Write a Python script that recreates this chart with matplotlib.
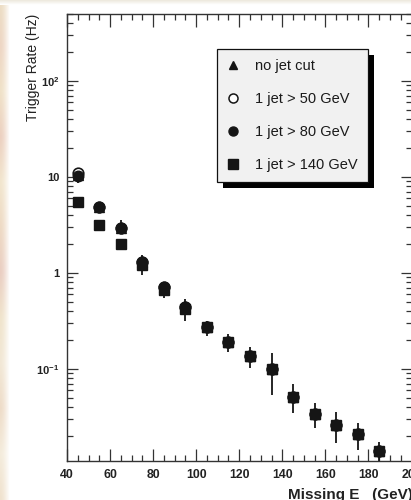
import numpy as np
import matplotlib
matplotlib.use("Agg")
import matplotlib.pyplot as plt
from matplotlib.lines import Line2D
from matplotlib.patches import Rectangle
from matplotlib.ticker import FixedLocator, MultipleLocator, LogLocator, NullFormatter
from matplotlib.transforms import IdentityTransform

plt.rcParams["font.family"] = ["Liberation Sans", "DejaVu Sans"]
plt.rcParams["mathtext.fontset"] = "custom"
plt.rcParams["mathtext.rm"] = "Liberation Sans:bold"
plt.rcParams["mathtext.bf"] = "Liberation Sans:bold"
plt.rcParams["mathtext.it"] = "Liberation Sans:bold"

# Missing transverse energy bins (GeV)
energy = [45, 55, 65, 75, 85, 95, 105, 115, 125, 135, 145, 155, 165, 175, 185]

# Trigger rates (Hz) per jet requirement
rate_no_cut = [10.6, 4.9, 2.92, 1.31, 0.71, 0.44, 0.272, 0.193, 0.138, 0.100,
               0.0515, 0.0337, 0.026, 0.0209, 0.0139]
rate_jet50 = [10.9, 4.9, 2.92, 1.31, 0.71, 0.44, 0.272, 0.193, 0.138, 0.100,
              0.0515, 0.0337, 0.026, 0.0209, 0.0139]
rate_jet80 = [10.3, 4.9, 2.92, 1.31, 0.71, 0.44, 0.272, 0.193, 0.138, 0.100,
              0.0515, 0.0337, 0.026, 0.0209, 0.0139]
rate_jet80_lo = [8.7, 4.7, 2.6, 1.25, 0.68, 0.42, 0.262, 0.186, 0.133, 0.096,
                 0.049, 0.032, 0.025, 0.020, 0.0133]
rate_jet80_hi = [12.4, 5.1, 3.6, 1.38, 0.74, 0.46, 0.282, 0.200, 0.143, 0.104,
                 0.054, 0.035, 0.027, 0.0218, 0.0145]
rate_jet140 = [5.5, 3.16, 2.0, 1.21, 0.665, 0.42, 0.272, 0.193, 0.138, 0.100,
               0.0515, 0.0337, 0.026, 0.0209, 0.0139]
rate_jet140_lo = [4.9, 2.95, 1.8, 0.955, 0.545, 0.316, 0.222, 0.151, 0.103, 0.0536,
                  0.0345, 0.0245, 0.0168, 0.0144, 0.0105]
rate_jet140_hi = [6.2, 3.4, 2.2, 1.54, 0.80, 0.532, 0.318, 0.230, 0.171, 0.146,
                  0.069, 0.044, 0.0354, 0.0274, 0.0175]

legend_labels = ["no jet cut", "1 jet > 50 GeV", "1 jet > 80 GeV", "1 jet > 140 GeV"]
x_ticks = [40, 60, 80, 100, 120, 140, 160, 180, 200]
y_ticks = [0.1, 1, 10, 100]
y_tick_labels = [r"$10^{-1}$", "1", "10", r"$10^{2}$"]

W, H = 411, 500
fig = plt.figure(figsize=(W / 100, H / 100), dpi=100, facecolor="white")

# faded paper texture along the left and top edges
stops = np.array([
    [236, 222, 196], [238, 214, 196], [240, 226, 200], [236, 208, 192],
    [242, 230, 206], [238, 218, 196], [234, 206, 194], [240, 228, 204],
    [242, 232, 214], [238, 220, 200], [244, 236, 220], [240, 226, 206],
]) / 255.0
ny = 200
yy = np.linspace(0, len(stops) - 1, ny)
col = np.empty((ny, 3))
for c in range(3):
    col[:, c] = np.interp(yy, np.arange(len(stops)), stops[:, c])
fade = np.linspace(0, 1, 12) ** 1.5
strip = col[:, None, :] * (1 - fade[None, :, None]) + fade[None, :, None]
ax_bg = fig.add_axes([0, 0, 9 / W, 1], zorder=-5)
ax_bg.imshow(strip, aspect="auto", interpolation="bilinear")
ax_bg.axis("off")
top_col = np.array([238, 234, 222]) / 255.0
tfade = np.linspace(0, 1, 6)[:, None, None]
tstrip = top_col[None, None, :] * (1 - tfade) + tfade
tstrip = np.repeat(tstrip, 4, axis=1)
ax_top = fig.add_axes([0, 1 - 5 / H, 1, 5 / H], zorder=-5)
ax_top.imshow(tstrip, aspect="auto", interpolation="bilinear")
ax_top.axis("off")

left, right, top, bottom = 67, 411.5, 14, 461
ax = fig.add_axes([left / W, 1 - bottom / H, (right - left) / W, (bottom - top) / H])
ax.set_facecolor("white")

ink = "#151515"
err_kw = dict(fmt="none", ecolor=ink, elinewidth=1.3, capsize=0, zorder=2)

def yerr(vals, lo, hi):
    v = np.array(vals)
    return [v - np.array(lo), np.array(hi) - v]

ax.plot(energy, rate_no_cut, ls="none", marker="^", ms=6.5, color=ink, zorder=3)
ax.plot(energy, rate_jet50, ls="none", marker="o", ms=7.6, mfc="white", mec=ink,
        mew=1.2, zorder=3)
ax.errorbar(energy, rate_jet80, yerr=yerr(rate_jet80, rate_jet80_lo, rate_jet80_hi), **err_kw)
ax.plot(energy, rate_jet80, ls="none", marker="o", ms=7.6, color=ink, zorder=4)
ax.errorbar(energy, rate_jet140, yerr=yerr(rate_jet140, rate_jet140_lo, rate_jet140_hi), **err_kw)
ax.plot(energy, rate_jet140, ls="none", marker="s", ms=7.3, color=ink, zorder=5)

ax.set_yscale("log")
ax.set_xlim(40, 200)
ax.set_ylim(0.011, 500)

ax.xaxis.set_major_locator(FixedLocator(x_ticks))
ax.xaxis.set_minor_locator(MultipleLocator(5))
ax.yaxis.set_major_locator(FixedLocator(y_ticks))
ax.set_yticklabels(y_tick_labels)
ax.yaxis.set_minor_locator(LogLocator(base=10, subs=np.arange(2, 10)))
ax.yaxis.set_minor_formatter(NullFormatter())

for s in ax.spines.values():
    s.set_linewidth(1.0)
    s.set_color("#333333")

ax.tick_params(axis="both", which="both", direction="in", top=True, right=True,
               color="#333333", width=0.9)
ax.tick_params(axis="x", which="major", length=9, pad=6)
ax.tick_params(axis="x", which="minor", length=4.5)
ax.tick_params(axis="y", which="major", length=8, pad=5.5)
ax.tick_params(axis="y", which="minor", length=4.5)
for lab in ax.get_xticklabels():
    lab.set_fontsize(8.8)
    lab.set_fontweight("bold")
    lab.set_color("#222222")
for lab in ax.get_yticklabels():
    lab.set_fontsize(8)
    lab.set_fontweight("bold")
    lab.set_color("#222222")

ax.set_ylabel("Trigger Rate (Hz)", fontsize=10, loc="top", color="#222222")
ax.yaxis.set_label_coords((40 - left) / (right - left), 1.0)

fig.text(413 / W, 1.5 / H, "Missing E   (GeV)", fontsize=11, fontweight="bold",
         ha="right", va="baseline", color="#222222")

handles = [
    Line2D([], [], ls="none", marker="^", ms=5.5, color=ink),
    Line2D([], [], ls="none", marker="o", ms=6.5, mfc="white", mec=ink, mew=1.1),
    Line2D([], [], ls="none", marker="o", ms=6.5, color=ink),
    Line2D([], [], ls="none", marker="s", ms=6.5, color=ink),
]
bx0, bx1, by0 = 217, 368, 49
leg = ax.legend(handles, legend_labels, loc="upper left",
                bbox_to_anchor=(bx0, H - by0, bx1 - bx0, 0),
                bbox_transform=IdentityTransform(), mode="expand",
                fontsize=10.5, frameon=True, fancybox=False, framealpha=1,
                facecolor="#f1f1f1", edgecolor="#111111", borderaxespad=0,
                borderpad=0.7, labelspacing=1.3, handlelength=0.85,
                handletextpad=1.05, labelcolor="#1a1a1a")
leg.get_frame().set_linewidth(0.9)
leg.set_zorder(10)

fig.canvas.draw()
bb = leg.get_window_extent()
shadow = Rectangle((bb.x0 + 6, bb.y0 - 6), bb.width, bb.height,
                   transform=IdentityTransform(), facecolor="black",
                   edgecolor="none", zorder=9)
ax.add_artist(shadow)

fig.savefig("out.png", dpi=100, facecolor="white")
